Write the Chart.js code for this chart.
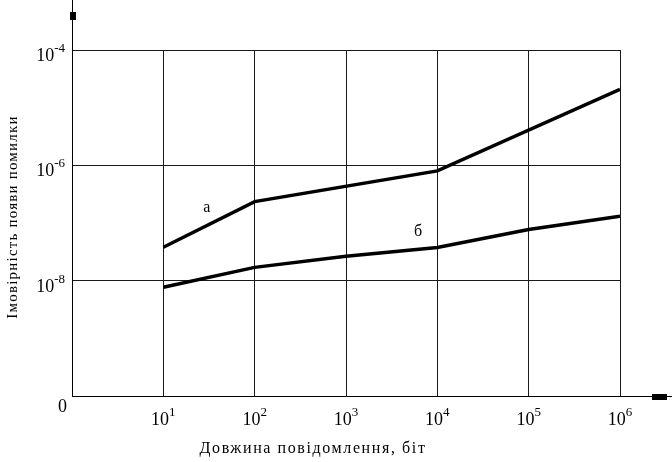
<!DOCTYPE html>
<html>
<head>
<meta charset="utf-8">
<script src="https://cdn.jsdelivr.net/npm/chart.js@4/dist/chart.umd.min.js"></script>
<style>
  html, body { margin: 0; padding: 0; background: #fff; }
  #wrap { width: 672px; height: 462px; }
</style>
</head>
<body>
<div id="wrap"><canvas id="chart1" width="672" height="462"></canvas></div>
<script>
// message length, bits
var lengths_a = [10, 100, 10000, 1000000];
var lengths_b = [10, 100, 1000, 10000, 100000, 1000000];
// error probability
var prob_a = [3.8e-8, 2.35e-7, 8.0e-7, 2.07e-5];
var prob_b = [7.7e-9, 1.7e-8, 2.65e-8, 3.75e-8, 7.7e-8, 1.31e-7];

var xTicks = [10, 100, 1000, 10000, 100000, 1000000];
var xTickExp = ['1', '2', '3', '4', '5', '6'];
var yTicks = [1e-8, 1e-6, 1e-4];
var yTickExp = ['-8', '-6', '-4'];
var originLabel = '0';

var xTitle = 'Довжина повідомлення, біт';
var yTitle = 'Імовірність появи помилки';
var curveNames = ['а', 'б'];

function toPoints(xs, ys) {
    return xs.map(function (x, i) { return { x: x, y: ys[i] }; });
}

var serif = '"Liberation Serif", "Times New Roman", serif';
var baseFont = '18px ' + serif;
var expFont = '13px ' + serif;

// "10" with a raised exponent, drawn at (x, baseline) with given alignment
function powerLabel(ctx, exp, x, y, align) {
    ctx.font = baseFont;
    var wb = ctx.measureText('10').width;
    ctx.font = expFont;
    var we = ctx.measureText(exp).width;
    var left = align === 'right' ? x - wb - we : x - (wb + we) / 2;
    ctx.textAlign = 'left';
    ctx.textBaseline = 'alphabetic';
    ctx.font = baseFont;
    ctx.fillText('10', left, y);
    ctx.font = expFont;
    ctx.fillText(exp, left + wb, y - 9);
}

var decor = {
    id: 'decor',
    afterDraw: function (chart) {
        var ctx = chart.ctx;
        var a = chart.chartArea;
        var xs = chart.scales.x, ys = chart.scales.y;
        ctx.save();
        // axis extensions and arrows
        ctx.strokeStyle = '#000';
        ctx.lineWidth = 1;
        ctx.beginPath();
        ctx.moveTo(a.left + 0.5, a.top);
        ctx.lineTo(a.left + 0.5, 0);
        ctx.moveTo(a.right, a.bottom + 0.5);
        ctx.lineTo(chart.width, a.bottom + 0.5);
        ctx.stroke();
        ctx.fillStyle = '#000';
        ctx.fillRect(a.left - 2, 12, 6, 8);
        ctx.fillRect(652, a.bottom - 2, 15, 6);

        // tick labels
        xTicks.forEach(function (v, i) {
            powerLabel(ctx, xTickExp[i], xs.getPixelForValue(v), a.bottom + 29, 'center');
        });
        yTicks.forEach(function (v, i) {
            powerLabel(ctx, yTickExp[i], a.left - 7, ys.getPixelForValue(v) + 11, 'right');
        });
        ctx.font = baseFont;
        ctx.textAlign = 'right';
        ctx.fillText(originLabel, a.left - 5, a.bottom + 16);

        // curve labels
        ctx.font = '16px ' + serif;
        ctx.textAlign = 'center';
        ctx.textBaseline = 'middle';
        ctx.fillText(curveNames[0], xs.getPixelForValue(30), ys.getPixelForValue(1.8e-7));
        ctx.fillText(curveNames[1], xs.getPixelForValue(6150), ys.getPixelForValue(6.9e-8));

        // axis titles
        ctx.font = '16px ' + serif;
        ctx.letterSpacing = '1.6px';
        ctx.fillText(xTitle, 313, 449);
        ctx.font = '15px ' + serif;
        ctx.letterSpacing = '1.2px';
        ctx.translate(13, 217);
        ctx.rotate(-Math.PI / 2);
        ctx.fillText(yTitle, 0, 0);
        ctx.restore();
    }
};

new Chart(document.getElementById('chart1'), {
    type: 'line',
    data: {
        datasets: [{
            label: curveNames[0],
            data: toPoints(lengths_a, prob_a),
            borderColor: '#000',
            borderWidth: 3.5,
            pointRadius: 0,
            tension: 0
        }, {
            label: curveNames[1],
            data: toPoints(lengths_b, prob_b),
            borderColor: '#000',
            borderWidth: 3.5,
            pointRadius: 0,
            tension: 0
        }]
    },
    options: {
        responsive: false,
        animation: false,
        devicePixelRatio: 1,
        layout: { padding: { top: 50, right: 52, left: 0, bottom: 0 } },
        plugins: { legend: { display: false }, tooltip: { enabled: false } },
        scales: {
            x: {
                type: 'logarithmic',
                min: 1,
                max: 1000000,
                afterBuildTicks: function (scale) {
                    scale.ticks = [1].concat(xTicks).map(function (v) { return { value: v }; });
                },
                afterFit: function (scale) { scale.height = 66; },
                grid: { color: '#1a1a1a', lineWidth: 1, drawTicks: false },
                border: { display: true, color: '#000', width: 1 },
                ticks: { display: false }
            },
            y: {
                type: 'logarithmic',
                min: 1e-10,
                max: 1e-4,
                afterBuildTicks: function (scale) {
                    scale.ticks = [1e-10].concat(yTicks).map(function (v) { return { value: v }; });
                },
                afterFit: function (scale) { scale.width = 72; },
                grid: { color: '#1a1a1a', lineWidth: 1, drawTicks: false },
                border: { display: true, color: '#000', width: 1 },
                ticks: { display: false }
            }
        }
    },
    plugins: [decor]
});
</script>
</body>
</html>
